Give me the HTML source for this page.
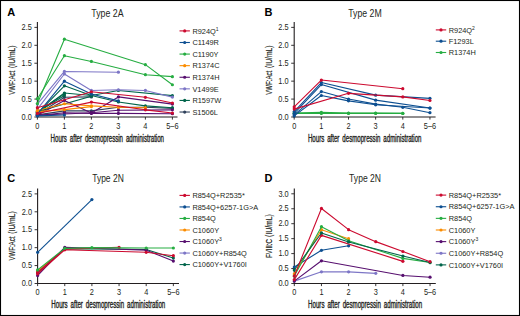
<!DOCTYPE html>
<html><head><meta charset="utf-8"><style>
html,body{margin:0;padding:0;background:#fff;overflow:hidden;width:520px;height:316px;}
svg{display:block;}
text{font-family:"Liberation Sans", sans-serif;}
.b{stroke:#231f20;stroke-width:0.36px;}
.c{stroke:#231f20;stroke-width:0.2px;}
</style></head><body>
<svg width="520" height="316" viewBox="0 0 520 316">
<rect x="0" y="0" width="520" height="316" fill="#fff"/>
<path d="M37.4 22.1V117.0H177.5" fill="none" stroke="#231f20" stroke-width="1.1"/>
<path d="M34.4 117.00H37.4" stroke="#231f20" stroke-width="0.9"/>
<text x="31.799999999999997" y="119.70" font-size="8.2" text-anchor="end" textLength="10.26" lengthAdjust="spacingAndGlyphs" fill="#231f20" >0.0</text>
<path d="M34.4 99.08H37.4" stroke="#231f20" stroke-width="0.9"/>
<text x="31.799999999999997" y="101.78" font-size="8.2" text-anchor="end" textLength="10.26" lengthAdjust="spacingAndGlyphs" fill="#231f20" >0.5</text>
<path d="M34.4 81.15H37.4" stroke="#231f20" stroke-width="0.9"/>
<text x="31.799999999999997" y="83.85" font-size="8.2" text-anchor="end" textLength="10.26" lengthAdjust="spacingAndGlyphs" fill="#231f20" >1.0</text>
<path d="M34.4 63.22H37.4" stroke="#231f20" stroke-width="0.9"/>
<text x="31.799999999999997" y="65.92" font-size="8.2" text-anchor="end" textLength="10.26" lengthAdjust="spacingAndGlyphs" fill="#231f20" >1.5</text>
<path d="M34.4 45.30H37.4" stroke="#231f20" stroke-width="0.9"/>
<text x="31.799999999999997" y="48.00" font-size="8.2" text-anchor="end" textLength="10.26" lengthAdjust="spacingAndGlyphs" fill="#231f20" >2.0</text>
<path d="M34.4 27.38H37.4" stroke="#231f20" stroke-width="0.9"/>
<text x="31.799999999999997" y="30.07" font-size="8.2" text-anchor="end" textLength="10.26" lengthAdjust="spacingAndGlyphs" fill="#231f20" >2.5</text>
<path d="M37.40 117.0V119.6" stroke="#231f20" stroke-width="0.9"/>
<text x="37.40" y="128.60" font-size="8.2" text-anchor="middle" textLength="4.10" lengthAdjust="spacingAndGlyphs" fill="#231f20" >0</text>
<path d="M64.40 117.0V119.6" stroke="#231f20" stroke-width="0.9"/>
<text x="64.40" y="128.60" font-size="8.2" text-anchor="middle" textLength="4.10" lengthAdjust="spacingAndGlyphs" fill="#231f20" >1</text>
<path d="M91.40 117.0V119.6" stroke="#231f20" stroke-width="0.9"/>
<text x="91.40" y="128.60" font-size="8.2" text-anchor="middle" textLength="4.10" lengthAdjust="spacingAndGlyphs" fill="#231f20" >2</text>
<path d="M118.40 117.0V119.6" stroke="#231f20" stroke-width="0.9"/>
<text x="118.40" y="128.60" font-size="8.2" text-anchor="middle" textLength="4.10" lengthAdjust="spacingAndGlyphs" fill="#231f20" >3</text>
<path d="M145.40 117.0V119.6" stroke="#231f20" stroke-width="0.9"/>
<text x="145.40" y="128.60" font-size="8.2" text-anchor="middle" textLength="4.10" lengthAdjust="spacingAndGlyphs" fill="#231f20" >4</text>
<path d="M172.40 117.0V119.6" stroke="#231f20" stroke-width="0.9"/>
<text x="172.40" y="128.60" font-size="8.2" text-anchor="middle" textLength="12.31" lengthAdjust="spacingAndGlyphs" fill="#231f20" >5–6</text>
<text x="50.6" y="141.6" font-size="10.0" textLength="113.4" lengthAdjust="spacingAndGlyphs" fill="#231f20" class="b" word-spacing="2.0">Hours after desmopressin administration</text>
<text transform="translate(15.0 94.8) rotate(-90)" x="0" y="0" font-size="9.5" class="c" textLength="24.0" lengthAdjust="spacingAndGlyphs" fill="#231f20">VWF:Act</text>
<text transform="translate(15.0 67.9) rotate(-90)" x="0" y="0" font-size="9.5" class="c" textLength="22.4" lengthAdjust="spacingAndGlyphs" fill="#231f20">(IU/mL)</text>
<text x="91.3" y="16.9" font-size="10.0" textLength="32.3" lengthAdjust="spacingAndGlyphs" fill="#231f20" >Type 2A</text>
<text x="7.2" y="15.9" font-size="11" font-weight="bold" fill="#000" >A</text>
<path d="M179.5 30.90H189.9" stroke="#cc0a2f" stroke-width="1.1"/>
<circle cx="184.7" cy="30.90" r="1.6" fill="#cc0a2f"/>
<text x="192.4" y="33.55" font-size="7.4" fill="#231f20" >R924Q<tspan dy="-3" font-size="5">1</tspan></text>
<path d="M179.5 42.49H189.9" stroke="#0d4f91" stroke-width="1.1"/>
<circle cx="184.7" cy="42.49" r="1.6" fill="#0d4f91"/>
<text x="192.4" y="45.14" font-size="7.4" fill="#231f20" >C1149R</text>
<path d="M179.5 54.08H189.9" stroke="#26ad42" stroke-width="1.1"/>
<circle cx="184.7" cy="54.08" r="1.6" fill="#26ad42"/>
<text x="192.4" y="56.73" font-size="7.4" fill="#231f20" >C1190Y</text>
<path d="M179.5 65.67H189.9" stroke="#fb8c00" stroke-width="1.1"/>
<circle cx="184.7" cy="65.67" r="1.6" fill="#fb8c00"/>
<text x="192.4" y="68.32" font-size="7.4" fill="#231f20" >R1374C</text>
<path d="M179.5 77.26H189.9" stroke="#570f6f" stroke-width="1.1"/>
<circle cx="184.7" cy="77.26" r="1.6" fill="#570f6f"/>
<text x="192.4" y="79.91" font-size="7.4" fill="#231f20" >R1374H</text>
<path d="M179.5 88.85H189.9" stroke="#7d76c6" stroke-width="1.1"/>
<circle cx="184.7" cy="88.85" r="1.6" fill="#7d76c6"/>
<text x="192.4" y="91.50" font-size="7.4" fill="#231f20" >V1499E</text>
<path d="M179.5 100.44H189.9" stroke="#00644a" stroke-width="1.1"/>
<circle cx="184.7" cy="100.44" r="1.6" fill="#00644a"/>
<text x="192.4" y="103.09" font-size="7.4" fill="#231f20" >R1597W</text>
<path d="M179.5 112.03H189.9" stroke="#2f415b" stroke-width="1.1"/>
<circle cx="184.7" cy="112.03" r="1.6" fill="#2f415b"/>
<text x="192.4" y="114.68" font-size="7.4" fill="#231f20" >S1506L</text>
<g><path d="M37.40 114.85 L64.40 110.91 L91.40 110.91 L118.40 107.32 L145.40 107.32 L172.40 108.40" fill="none" stroke="#2f415b" stroke-width="1.1" stroke-linejoin="round"/>
<circle cx="37.40" cy="114.85" r="1.6" fill="#2f415b"/>
<circle cx="64.40" cy="110.91" r="1.6" fill="#2f415b"/>
<circle cx="91.40" cy="110.91" r="1.6" fill="#2f415b"/>
<circle cx="118.40" cy="107.32" r="1.6" fill="#2f415b"/>
<circle cx="145.40" cy="107.32" r="1.6" fill="#2f415b"/>
<circle cx="172.40" cy="108.40" r="1.6" fill="#2f415b"/>
</g>
<g><path d="M37.40 114.49 L64.40 97.28 L91.40 96.92" fill="none" stroke="#2f415b" stroke-width="1.1" stroke-linejoin="round"/>
<circle cx="37.40" cy="114.49" r="1.6" fill="#2f415b"/>
<circle cx="64.40" cy="97.28" r="1.6" fill="#2f415b"/>
<circle cx="91.40" cy="96.92" r="1.6" fill="#2f415b"/>
</g>
<g><path d="M37.40 112.34 L64.40 95.49" fill="none" stroke="#00644a" stroke-width="1.1" stroke-linejoin="round"/>
<circle cx="37.40" cy="112.34" r="1.6" fill="#00644a"/>
<circle cx="64.40" cy="95.49" r="1.6" fill="#00644a"/>
</g>
<g><path d="M37.40 111.62 L91.40 96.21" fill="none" stroke="#00644a" stroke-width="1.1" stroke-linejoin="round"/>
<circle cx="37.40" cy="111.62" r="1.6" fill="#00644a"/>
<circle cx="91.40" cy="96.21" r="1.6" fill="#00644a"/>
</g>
<g><path d="M37.40 111.98 L64.40 93.88" fill="none" stroke="#00644a" stroke-width="1.1" stroke-linejoin="round"/>
<circle cx="37.40" cy="111.98" r="1.6" fill="#00644a"/>
<circle cx="64.40" cy="93.88" r="1.6" fill="#00644a"/>
</g>
<g><path d="M37.40 113.42 L64.40 85.81 L91.40 95.49 L118.40 101.94 L145.40 105.89 L172.40 107.68" fill="none" stroke="#00644a" stroke-width="1.1" stroke-linejoin="round"/>
<circle cx="37.40" cy="113.42" r="1.6" fill="#00644a"/>
<circle cx="64.40" cy="85.81" r="1.6" fill="#00644a"/>
<circle cx="91.40" cy="95.49" r="1.6" fill="#00644a"/>
<circle cx="118.40" cy="101.94" r="1.6" fill="#00644a"/>
<circle cx="145.40" cy="105.89" r="1.6" fill="#00644a"/>
<circle cx="172.40" cy="107.68" r="1.6" fill="#00644a"/>
</g>
<g><path d="M37.40 112.70 L64.40 92.98 L91.40 95.49 L118.40 90.47 L172.40 95.67" fill="none" stroke="#00644a" stroke-width="1.1" stroke-linejoin="round"/>
<circle cx="37.40" cy="112.70" r="1.6" fill="#00644a"/>
<circle cx="64.40" cy="92.98" r="1.6" fill="#00644a"/>
<circle cx="91.40" cy="95.49" r="1.6" fill="#00644a"/>
<circle cx="118.40" cy="90.47" r="1.6" fill="#00644a"/>
<circle cx="172.40" cy="95.67" r="1.6" fill="#00644a"/>
</g>
<g><path d="M37.40 109.11 L64.40 73.98 L91.40 90.47 L118.40 89.75 L145.40 90.47 L172.40 97.10" fill="none" stroke="#7d76c6" stroke-width="1.1" stroke-linejoin="round"/>
<circle cx="37.40" cy="109.11" r="1.6" fill="#7d76c6"/>
<circle cx="64.40" cy="73.98" r="1.6" fill="#7d76c6"/>
<circle cx="91.40" cy="90.47" r="1.6" fill="#7d76c6"/>
<circle cx="118.40" cy="89.75" r="1.6" fill="#7d76c6"/>
<circle cx="145.40" cy="90.47" r="1.6" fill="#7d76c6"/>
<circle cx="172.40" cy="97.10" r="1.6" fill="#7d76c6"/>
</g>
<g><path d="M37.40 104.09 L64.40 71.47 L118.40 72.19" fill="none" stroke="#7d76c6" stroke-width="1.1" stroke-linejoin="round"/>
<circle cx="37.40" cy="104.09" r="1.6" fill="#7d76c6"/>
<circle cx="64.40" cy="71.47" r="1.6" fill="#7d76c6"/>
<circle cx="118.40" cy="72.19" r="1.6" fill="#7d76c6"/>
</g>
<g><path d="M37.40 115.57 L64.40 112.70 L91.40 113.42 L118.40 113.42 L172.40 113.77" fill="none" stroke="#570f6f" stroke-width="1.1" stroke-linejoin="round"/>
<circle cx="37.40" cy="115.57" r="1.6" fill="#570f6f"/>
<circle cx="64.40" cy="112.70" r="1.6" fill="#570f6f"/>
<circle cx="91.40" cy="113.42" r="1.6" fill="#570f6f"/>
<circle cx="118.40" cy="113.42" r="1.6" fill="#570f6f"/>
<circle cx="172.40" cy="113.77" r="1.6" fill="#570f6f"/>
</g>
<g><path d="M37.40 115.21 L64.40 100.51 L91.40 113.06 L118.40 96.92 L172.40 104.09" fill="none" stroke="#570f6f" stroke-width="1.1" stroke-linejoin="round"/>
<circle cx="37.40" cy="115.21" r="1.6" fill="#570f6f"/>
<circle cx="64.40" cy="100.51" r="1.6" fill="#570f6f"/>
<circle cx="91.40" cy="113.06" r="1.6" fill="#570f6f"/>
<circle cx="118.40" cy="96.92" r="1.6" fill="#570f6f"/>
<circle cx="172.40" cy="104.09" r="1.6" fill="#570f6f"/>
</g>
<g><path d="M37.40 115.21 L91.40 112.70 L118.40 110.19 L172.40 109.83" fill="none" stroke="#570f6f" stroke-width="1.1" stroke-linejoin="round"/>
<circle cx="37.40" cy="115.21" r="1.6" fill="#570f6f"/>
<circle cx="91.40" cy="112.70" r="1.6" fill="#570f6f"/>
<circle cx="118.40" cy="110.19" r="1.6" fill="#570f6f"/>
<circle cx="172.40" cy="109.83" r="1.6" fill="#570f6f"/>
</g>
<g><path d="M37.40 111.62 L64.40 109.65 L91.40 106.60" fill="none" stroke="#fb8c00" stroke-width="1.1" stroke-linejoin="round"/>
<circle cx="37.40" cy="111.62" r="1.6" fill="#fb8c00"/>
<circle cx="64.40" cy="109.65" r="1.6" fill="#fb8c00"/>
<circle cx="91.40" cy="106.60" r="1.6" fill="#fb8c00"/>
</g>
<g><path d="M37.40 110.55 L64.40 103.74 L91.40 105.89 L118.40 107.32 L145.40 107.68" fill="none" stroke="#fb8c00" stroke-width="1.1" stroke-linejoin="round"/>
<circle cx="37.40" cy="110.55" r="1.6" fill="#fb8c00"/>
<circle cx="64.40" cy="103.74" r="1.6" fill="#fb8c00"/>
<circle cx="91.40" cy="105.89" r="1.6" fill="#fb8c00"/>
<circle cx="118.40" cy="107.32" r="1.6" fill="#fb8c00"/>
<circle cx="145.40" cy="107.68" r="1.6" fill="#fb8c00"/>
</g>
<g><path d="M37.40 103.56 L64.40 39.21 L145.40 64.66 L172.40 84.73" fill="none" stroke="#26ad42" stroke-width="1.1" stroke-linejoin="round"/>
<circle cx="37.40" cy="103.56" r="1.6" fill="#26ad42"/>
<circle cx="64.40" cy="39.21" r="1.6" fill="#26ad42"/>
<circle cx="145.40" cy="64.66" r="1.6" fill="#26ad42"/>
<circle cx="172.40" cy="84.73" r="1.6" fill="#26ad42"/>
</g>
<g><path d="M37.40 98.72 L64.40 55.70 L91.40 61.43 L145.40 74.70 L172.40 76.67" fill="none" stroke="#26ad42" stroke-width="1.1" stroke-linejoin="round"/>
<circle cx="37.40" cy="98.72" r="1.6" fill="#26ad42"/>
<circle cx="64.40" cy="55.70" r="1.6" fill="#26ad42"/>
<circle cx="91.40" cy="61.43" r="1.6" fill="#26ad42"/>
<circle cx="145.40" cy="74.70" r="1.6" fill="#26ad42"/>
<circle cx="172.40" cy="76.67" r="1.6" fill="#26ad42"/>
</g>
<g><path d="M37.40 115.92 L64.40 115.03" fill="none" stroke="#0d4f91" stroke-width="1.1" stroke-linejoin="round"/>
<circle cx="37.40" cy="115.92" r="1.6" fill="#0d4f91"/>
<circle cx="64.40" cy="115.03" r="1.6" fill="#0d4f91"/>
</g>
<g><path d="M37.40 114.13 L64.40 81.15 L91.40 94.06 L118.40 100.87" fill="none" stroke="#0d4f91" stroke-width="1.1" stroke-linejoin="round"/>
<circle cx="37.40" cy="114.13" r="1.6" fill="#0d4f91"/>
<circle cx="64.40" cy="81.15" r="1.6" fill="#0d4f91"/>
<circle cx="91.40" cy="94.06" r="1.6" fill="#0d4f91"/>
<circle cx="118.40" cy="100.87" r="1.6" fill="#0d4f91"/>
</g>
<g><path d="M37.40 113.42 L91.40 102.12 L145.40 109.83 L172.40 113.06" fill="none" stroke="#cc0a2f" stroke-width="1.1" stroke-linejoin="round"/>
<circle cx="37.40" cy="113.42" r="1.6" fill="#cc0a2f"/>
<circle cx="91.40" cy="102.12" r="1.6" fill="#cc0a2f"/>
<circle cx="145.40" cy="109.83" r="1.6" fill="#cc0a2f"/>
<circle cx="172.40" cy="113.06" r="1.6" fill="#cc0a2f"/>
</g>
<g><path d="M37.40 107.68 L91.40 91.73 L145.40 97.28 L172.40 103.02" fill="none" stroke="#cc0a2f" stroke-width="1.1" stroke-linejoin="round"/>
<circle cx="37.40" cy="107.68" r="1.6" fill="#cc0a2f"/>
<circle cx="91.40" cy="91.73" r="1.6" fill="#cc0a2f"/>
<circle cx="145.40" cy="97.28" r="1.6" fill="#cc0a2f"/>
<circle cx="172.40" cy="103.02" r="1.6" fill="#cc0a2f"/>
</g>
<path d="M294.2 22.0V117.0H435.6" fill="none" stroke="#231f20" stroke-width="1.1"/>
<path d="M291.2 117.00H294.2" stroke="#231f20" stroke-width="0.9"/>
<text x="288.59999999999997" y="119.70" font-size="8.2" text-anchor="end" textLength="10.26" lengthAdjust="spacingAndGlyphs" fill="#231f20" >0.0</text>
<path d="M291.2 99.08H294.2" stroke="#231f20" stroke-width="0.9"/>
<text x="288.59999999999997" y="101.78" font-size="8.2" text-anchor="end" textLength="10.26" lengthAdjust="spacingAndGlyphs" fill="#231f20" >0.5</text>
<path d="M291.2 81.15H294.2" stroke="#231f20" stroke-width="0.9"/>
<text x="288.59999999999997" y="83.85" font-size="8.2" text-anchor="end" textLength="10.26" lengthAdjust="spacingAndGlyphs" fill="#231f20" >1.0</text>
<path d="M291.2 63.22H294.2" stroke="#231f20" stroke-width="0.9"/>
<text x="288.59999999999997" y="65.92" font-size="8.2" text-anchor="end" textLength="10.26" lengthAdjust="spacingAndGlyphs" fill="#231f20" >1.5</text>
<path d="M291.2 45.30H294.2" stroke="#231f20" stroke-width="0.9"/>
<text x="288.59999999999997" y="48.00" font-size="8.2" text-anchor="end" textLength="10.26" lengthAdjust="spacingAndGlyphs" fill="#231f20" >2.0</text>
<path d="M291.2 27.38H294.2" stroke="#231f20" stroke-width="0.9"/>
<text x="288.59999999999997" y="30.07" font-size="8.2" text-anchor="end" textLength="10.26" lengthAdjust="spacingAndGlyphs" fill="#231f20" >2.5</text>
<path d="M294.20 117.0V119.6" stroke="#231f20" stroke-width="0.9"/>
<text x="294.20" y="128.60" font-size="8.2" text-anchor="middle" textLength="4.10" lengthAdjust="spacingAndGlyphs" fill="#231f20" >0</text>
<path d="M321.35 117.0V119.6" stroke="#231f20" stroke-width="0.9"/>
<text x="321.35" y="128.60" font-size="8.2" text-anchor="middle" textLength="4.10" lengthAdjust="spacingAndGlyphs" fill="#231f20" >1</text>
<path d="M348.50 117.0V119.6" stroke="#231f20" stroke-width="0.9"/>
<text x="348.50" y="128.60" font-size="8.2" text-anchor="middle" textLength="4.10" lengthAdjust="spacingAndGlyphs" fill="#231f20" >2</text>
<path d="M375.65 117.0V119.6" stroke="#231f20" stroke-width="0.9"/>
<text x="375.65" y="128.60" font-size="8.2" text-anchor="middle" textLength="4.10" lengthAdjust="spacingAndGlyphs" fill="#231f20" >3</text>
<path d="M402.80 117.0V119.6" stroke="#231f20" stroke-width="0.9"/>
<text x="402.80" y="128.60" font-size="8.2" text-anchor="middle" textLength="4.10" lengthAdjust="spacingAndGlyphs" fill="#231f20" >4</text>
<path d="M429.95 117.0V119.6" stroke="#231f20" stroke-width="0.9"/>
<text x="429.95" y="128.60" font-size="8.2" text-anchor="middle" textLength="12.31" lengthAdjust="spacingAndGlyphs" fill="#231f20" >5–6</text>
<text x="307.9" y="141.7" font-size="10.0" textLength="113.6" lengthAdjust="spacingAndGlyphs" fill="#231f20" class="b" word-spacing="2.0">Hours after desmopressin administration</text>
<text transform="translate(272.0 94.8) rotate(-90)" x="0" y="0" font-size="9.5" class="c" textLength="24.0" lengthAdjust="spacingAndGlyphs" fill="#231f20">VWF:Act</text>
<text transform="translate(272.0 67.9) rotate(-90)" x="0" y="0" font-size="9.5" class="c" textLength="22.4" lengthAdjust="spacingAndGlyphs" fill="#231f20">(IU/mL)</text>
<text x="348.2" y="16.9" font-size="10.0" textLength="33.5" lengthAdjust="spacingAndGlyphs" fill="#231f20" >Type 2M</text>
<text x="264.5" y="15.9" font-size="11" font-weight="bold" fill="#000" >B</text>
<path d="M435.8 29.90H446.2" stroke="#cc0a2f" stroke-width="1.1"/>
<circle cx="441.0" cy="29.90" r="1.6" fill="#cc0a2f"/>
<text x="448.7" y="32.55" font-size="7.4" fill="#231f20" >R924Q<tspan dy="-3" font-size="5">2</tspan></text>
<path d="M435.8 41.20H446.2" stroke="#0d4f91" stroke-width="1.1"/>
<circle cx="441.0" cy="41.20" r="1.6" fill="#0d4f91"/>
<text x="448.7" y="43.85" font-size="7.4" fill="#231f20" >F1293L</text>
<path d="M435.8 52.50H446.2" stroke="#26ad42" stroke-width="1.1"/>
<circle cx="441.0" cy="52.50" r="1.6" fill="#26ad42"/>
<text x="448.7" y="55.15" font-size="7.4" fill="#231f20" >R1374H</text>
<g><path d="M294.20 113.42 L321.35 113.42 L348.50 113.42 L375.65 113.42 L402.80 113.42" fill="none" stroke="#26ad42" stroke-width="1.1" stroke-linejoin="round"/>
<circle cx="294.20" cy="113.42" r="1.6" fill="#26ad42"/>
<circle cx="321.35" cy="113.42" r="1.6" fill="#26ad42"/>
<circle cx="348.50" cy="113.42" r="1.6" fill="#26ad42"/>
<circle cx="375.65" cy="113.42" r="1.6" fill="#26ad42"/>
<circle cx="402.80" cy="113.42" r="1.6" fill="#26ad42"/>
</g>
<g><path d="M294.20 113.06 L321.35 112.34 L348.50 113.06 L375.65 113.06 L402.80 113.42" fill="none" stroke="#26ad42" stroke-width="1.1" stroke-linejoin="round"/>
<circle cx="294.20" cy="113.06" r="1.6" fill="#26ad42"/>
<circle cx="321.35" cy="112.34" r="1.6" fill="#26ad42"/>
<circle cx="348.50" cy="113.06" r="1.6" fill="#26ad42"/>
<circle cx="375.65" cy="113.06" r="1.6" fill="#26ad42"/>
<circle cx="402.80" cy="113.42" r="1.6" fill="#26ad42"/>
</g>
<g><path d="M294.20 115.92 L321.35 95.49 L348.50 100.87 L375.65 104.81 L429.95 108.04" fill="none" stroke="#0d4f91" stroke-width="1.1" stroke-linejoin="round"/>
<circle cx="294.20" cy="115.92" r="1.6" fill="#0d4f91"/>
<circle cx="321.35" cy="95.49" r="1.6" fill="#0d4f91"/>
<circle cx="348.50" cy="100.87" r="1.6" fill="#0d4f91"/>
<circle cx="375.65" cy="104.81" r="1.6" fill="#0d4f91"/>
<circle cx="429.95" cy="108.04" r="1.6" fill="#0d4f91"/>
</g>
<g><path d="M294.20 114.85 L321.35 91.55 L348.50 99.08 L375.65 104.09 L402.80 107.32 L429.95 112.70" fill="none" stroke="#0d4f91" stroke-width="1.1" stroke-linejoin="round"/>
<circle cx="294.20" cy="114.85" r="1.6" fill="#0d4f91"/>
<circle cx="321.35" cy="91.55" r="1.6" fill="#0d4f91"/>
<circle cx="348.50" cy="99.08" r="1.6" fill="#0d4f91"/>
<circle cx="375.65" cy="104.09" r="1.6" fill="#0d4f91"/>
<circle cx="402.80" cy="107.32" r="1.6" fill="#0d4f91"/>
<circle cx="429.95" cy="112.70" r="1.6" fill="#0d4f91"/>
</g>
<g><path d="M294.20 113.42 L321.35 84.56 L375.65 100.15 L429.95 108.04" fill="none" stroke="#0d4f91" stroke-width="1.1" stroke-linejoin="round"/>
<circle cx="294.20" cy="113.42" r="1.6" fill="#0d4f91"/>
<circle cx="321.35" cy="84.56" r="1.6" fill="#0d4f91"/>
<circle cx="375.65" cy="100.15" r="1.6" fill="#0d4f91"/>
<circle cx="429.95" cy="108.04" r="1.6" fill="#0d4f91"/>
</g>
<g><path d="M294.20 111.62 L321.35 82.58 L375.65 95.13 L429.95 98.36" fill="none" stroke="#0d4f91" stroke-width="1.1" stroke-linejoin="round"/>
<circle cx="294.20" cy="111.62" r="1.6" fill="#0d4f91"/>
<circle cx="321.35" cy="82.58" r="1.6" fill="#0d4f91"/>
<circle cx="375.65" cy="95.13" r="1.6" fill="#0d4f91"/>
<circle cx="429.95" cy="98.36" r="1.6" fill="#0d4f91"/>
</g>
<g><path d="M294.20 109.11 L348.50 93.34 L402.80 96.92 L429.95 100.51" fill="none" stroke="#cc0a2f" stroke-width="1.1" stroke-linejoin="round"/>
<circle cx="294.20" cy="109.11" r="1.6" fill="#cc0a2f"/>
<circle cx="348.50" cy="93.34" r="1.6" fill="#cc0a2f"/>
<circle cx="402.80" cy="96.92" r="1.6" fill="#cc0a2f"/>
<circle cx="429.95" cy="100.51" r="1.6" fill="#cc0a2f"/>
</g>
<g><path d="M294.20 106.96 L321.35 80.07 L402.80 88.68" fill="none" stroke="#cc0a2f" stroke-width="1.1" stroke-linejoin="round"/>
<circle cx="294.20" cy="106.96" r="1.6" fill="#cc0a2f"/>
<circle cx="321.35" cy="80.07" r="1.6" fill="#cc0a2f"/>
<circle cx="402.80" cy="88.68" r="1.6" fill="#cc0a2f"/>
</g>
<path d="M37.6 188.6V283.5H179.0" fill="none" stroke="#231f20" stroke-width="1.1"/>
<path d="M34.6 283.50H37.6" stroke="#231f20" stroke-width="0.9"/>
<text x="32.0" y="286.20" font-size="8.2" text-anchor="end" textLength="10.26" lengthAdjust="spacingAndGlyphs" fill="#231f20" >0.0</text>
<path d="M34.6 265.57H37.6" stroke="#231f20" stroke-width="0.9"/>
<text x="32.0" y="268.27" font-size="8.2" text-anchor="end" textLength="10.26" lengthAdjust="spacingAndGlyphs" fill="#231f20" >0.5</text>
<path d="M34.6 247.65H37.6" stroke="#231f20" stroke-width="0.9"/>
<text x="32.0" y="250.35" font-size="8.2" text-anchor="end" textLength="10.26" lengthAdjust="spacingAndGlyphs" fill="#231f20" >1.0</text>
<path d="M34.6 229.72H37.6" stroke="#231f20" stroke-width="0.9"/>
<text x="32.0" y="232.42" font-size="8.2" text-anchor="end" textLength="10.26" lengthAdjust="spacingAndGlyphs" fill="#231f20" >1.5</text>
<path d="M34.6 211.80H37.6" stroke="#231f20" stroke-width="0.9"/>
<text x="32.0" y="214.50" font-size="8.2" text-anchor="end" textLength="10.26" lengthAdjust="spacingAndGlyphs" fill="#231f20" >2.0</text>
<path d="M34.6 193.88H37.6" stroke="#231f20" stroke-width="0.9"/>
<text x="32.0" y="196.57" font-size="8.2" text-anchor="end" textLength="10.26" lengthAdjust="spacingAndGlyphs" fill="#231f20" >2.5</text>
<path d="M37.60 283.5V286.1" stroke="#231f20" stroke-width="0.9"/>
<text x="37.60" y="295.10" font-size="8.2" text-anchor="middle" textLength="4.10" lengthAdjust="spacingAndGlyphs" fill="#231f20" >0</text>
<path d="M64.75 283.5V286.1" stroke="#231f20" stroke-width="0.9"/>
<text x="64.75" y="295.10" font-size="8.2" text-anchor="middle" textLength="4.10" lengthAdjust="spacingAndGlyphs" fill="#231f20" >1</text>
<path d="M91.90 283.5V286.1" stroke="#231f20" stroke-width="0.9"/>
<text x="91.90" y="295.10" font-size="8.2" text-anchor="middle" textLength="4.10" lengthAdjust="spacingAndGlyphs" fill="#231f20" >2</text>
<path d="M119.05 283.5V286.1" stroke="#231f20" stroke-width="0.9"/>
<text x="119.05" y="295.10" font-size="8.2" text-anchor="middle" textLength="4.10" lengthAdjust="spacingAndGlyphs" fill="#231f20" >3</text>
<path d="M146.20 283.5V286.1" stroke="#231f20" stroke-width="0.9"/>
<text x="146.20" y="295.10" font-size="8.2" text-anchor="middle" textLength="4.10" lengthAdjust="spacingAndGlyphs" fill="#231f20" >4</text>
<path d="M173.35 283.5V286.1" stroke="#231f20" stroke-width="0.9"/>
<text x="173.35" y="295.10" font-size="8.2" text-anchor="middle" textLength="12.31" lengthAdjust="spacingAndGlyphs" fill="#231f20" >5–6</text>
<text x="51.3" y="307.8" font-size="10.0" textLength="114.0" lengthAdjust="spacingAndGlyphs" fill="#231f20" class="b" word-spacing="2.0">Hours after desmopressin administration</text>
<text transform="translate(15.0 260.6) rotate(-90)" x="0" y="0" font-size="9.5" class="c" textLength="24.0" lengthAdjust="spacingAndGlyphs" fill="#231f20">VWF:Act</text>
<text transform="translate(15.0 233.7) rotate(-90)" x="0" y="0" font-size="9.5" class="c" textLength="22.4" lengthAdjust="spacingAndGlyphs" fill="#231f20">(IU/mL)</text>
<text x="92.2" y="182.4" font-size="10.0" textLength="31.6" lengthAdjust="spacingAndGlyphs" fill="#231f20" >Type 2N</text>
<text x="7.2" y="182.2" font-size="11" font-weight="bold" fill="#000" >C</text>
<path d="M179.5 195.40H189.9" stroke="#cc0a2f" stroke-width="1.1"/>
<circle cx="184.7" cy="195.40" r="1.6" fill="#cc0a2f"/>
<text x="192.4" y="198.05" font-size="7.4" fill="#231f20" >R854Q+R2535*</text>
<path d="M179.5 206.93H189.9" stroke="#0d4f91" stroke-width="1.1"/>
<circle cx="184.7" cy="206.93" r="1.6" fill="#0d4f91"/>
<text x="192.4" y="209.58" font-size="7.4" fill="#231f20" >R854Q+6257-1G&gt;A</text>
<path d="M179.5 218.46H189.9" stroke="#26ad42" stroke-width="1.1"/>
<circle cx="184.7" cy="218.46" r="1.6" fill="#26ad42"/>
<text x="192.4" y="221.11" font-size="7.4" fill="#231f20" >R854Q</text>
<path d="M179.5 229.99H189.9" stroke="#fb8c00" stroke-width="1.1"/>
<circle cx="184.7" cy="229.99" r="1.6" fill="#fb8c00"/>
<text x="192.4" y="232.64" font-size="7.4" fill="#231f20" >C1060Y</text>
<path d="M179.5 241.52H189.9" stroke="#570f6f" stroke-width="1.1"/>
<circle cx="184.7" cy="241.52" r="1.6" fill="#570f6f"/>
<text x="192.4" y="244.17" font-size="7.4" fill="#231f20" >C1060Y<tspan dy="-3" font-size="5">3</tspan></text>
<path d="M179.5 253.05H189.9" stroke="#7d76c6" stroke-width="1.1"/>
<circle cx="184.7" cy="253.05" r="1.6" fill="#7d76c6"/>
<text x="192.4" y="255.70" font-size="7.4" fill="#231f20" >C1060Y+R854Q</text>
<path d="M179.5 264.58H189.9" stroke="#00644a" stroke-width="1.1"/>
<circle cx="184.7" cy="264.58" r="1.6" fill="#00644a"/>
<text x="192.4" y="267.23" font-size="7.4" fill="#231f20" >C1060Y+V1760I</text>
<g><path d="M37.60 252.31 L91.90 199.61" fill="none" stroke="#0d4f91" stroke-width="1.1" stroke-linejoin="round"/>
<circle cx="37.60" cy="252.31" r="1.6" fill="#0d4f91"/>
<circle cx="91.90" cy="199.61" r="1.6" fill="#0d4f91"/>
</g>
<g><path d="M37.60 270.95 L64.75 248.73" fill="none" stroke="#fb8c00" stroke-width="1.1" stroke-linejoin="round"/>
<circle cx="37.60" cy="270.95" r="1.6" fill="#fb8c00"/>
<circle cx="64.75" cy="248.73" r="1.6" fill="#fb8c00"/>
</g>
<g><path d="M37.60 272.75 L64.75 248.73 L146.20 249.44 L173.35 258.05" fill="none" stroke="#00644a" stroke-width="1.1" stroke-linejoin="round"/>
<circle cx="37.60" cy="272.75" r="1.6" fill="#00644a"/>
<circle cx="64.75" cy="248.73" r="1.6" fill="#00644a"/>
<circle cx="146.20" cy="249.44" r="1.6" fill="#00644a"/>
<circle cx="173.35" cy="258.05" r="1.6" fill="#00644a"/>
</g>
<g><path d="M37.60 275.61 L64.75 247.29 L146.20 250.16 L173.35 261.09" fill="none" stroke="#570f6f" stroke-width="1.1" stroke-linejoin="round"/>
<circle cx="37.60" cy="275.61" r="1.6" fill="#570f6f"/>
<circle cx="64.75" cy="247.29" r="1.6" fill="#570f6f"/>
<circle cx="146.20" cy="250.16" r="1.6" fill="#570f6f"/>
<circle cx="173.35" cy="261.09" r="1.6" fill="#570f6f"/>
</g>
<g><path d="M37.60 273.82 L64.75 249.80 L146.20 252.31 L173.35 255.72" fill="none" stroke="#cc0a2f" stroke-width="1.1" stroke-linejoin="round"/>
<circle cx="37.60" cy="273.82" r="1.6" fill="#cc0a2f"/>
<circle cx="64.75" cy="249.80" r="1.6" fill="#cc0a2f"/>
<circle cx="146.20" cy="252.31" r="1.6" fill="#cc0a2f"/>
<circle cx="173.35" cy="255.72" r="1.6" fill="#cc0a2f"/>
</g>
<g><path d="M37.60 272.39 L64.75 249.08 L119.05 247.29" fill="none" stroke="#cc0a2f" stroke-width="1.1" stroke-linejoin="round"/>
<circle cx="37.60" cy="272.39" r="1.6" fill="#cc0a2f"/>
<circle cx="64.75" cy="249.08" r="1.6" fill="#cc0a2f"/>
<circle cx="119.05" cy="247.29" r="1.6" fill="#cc0a2f"/>
</g>
<g><path d="M37.60 269.88 L64.75 248.37 L91.90 247.65 L146.20 248.01 L173.35 248.01" fill="none" stroke="#26ad42" stroke-width="1.1" stroke-linejoin="round"/>
<circle cx="37.60" cy="269.88" r="1.6" fill="#26ad42"/>
<circle cx="64.75" cy="248.37" r="1.6" fill="#26ad42"/>
<circle cx="91.90" cy="247.65" r="1.6" fill="#26ad42"/>
<circle cx="146.20" cy="248.01" r="1.6" fill="#26ad42"/>
<circle cx="173.35" cy="248.01" r="1.6" fill="#26ad42"/>
</g>
<path d="M294.3 188.4V283.5H435.8" fill="none" stroke="#231f20" stroke-width="1.1"/>
<path d="M291.3 283.50H294.3" stroke="#231f20" stroke-width="0.9"/>
<text x="288.7" y="286.20" font-size="8.2" text-anchor="end" textLength="10.26" lengthAdjust="spacingAndGlyphs" fill="#231f20" >0.0</text>
<path d="M291.3 268.55H294.3" stroke="#231f20" stroke-width="0.9"/>
<text x="288.7" y="271.25" font-size="8.2" text-anchor="end" textLength="10.26" lengthAdjust="spacingAndGlyphs" fill="#231f20" >0.5</text>
<path d="M291.3 253.60H294.3" stroke="#231f20" stroke-width="0.9"/>
<text x="288.7" y="256.30" font-size="8.2" text-anchor="end" textLength="10.26" lengthAdjust="spacingAndGlyphs" fill="#231f20" >1.0</text>
<path d="M291.3 238.65H294.3" stroke="#231f20" stroke-width="0.9"/>
<text x="288.7" y="241.35" font-size="8.2" text-anchor="end" textLength="10.26" lengthAdjust="spacingAndGlyphs" fill="#231f20" >1.5</text>
<path d="M291.3 223.70H294.3" stroke="#231f20" stroke-width="0.9"/>
<text x="288.7" y="226.40" font-size="8.2" text-anchor="end" textLength="10.26" lengthAdjust="spacingAndGlyphs" fill="#231f20" >2.0</text>
<path d="M291.3 208.75H294.3" stroke="#231f20" stroke-width="0.9"/>
<text x="288.7" y="211.45" font-size="8.2" text-anchor="end" textLength="10.26" lengthAdjust="spacingAndGlyphs" fill="#231f20" >2.5</text>
<path d="M291.3 193.80H294.3" stroke="#231f20" stroke-width="0.9"/>
<text x="288.7" y="196.50" font-size="8.2" text-anchor="end" textLength="10.26" lengthAdjust="spacingAndGlyphs" fill="#231f20" >3.0</text>
<path d="M294.30 283.5V286.1" stroke="#231f20" stroke-width="0.9"/>
<text x="294.30" y="295.10" font-size="8.2" text-anchor="middle" textLength="4.10" lengthAdjust="spacingAndGlyphs" fill="#231f20" >0</text>
<path d="M321.45 283.5V286.1" stroke="#231f20" stroke-width="0.9"/>
<text x="321.45" y="295.10" font-size="8.2" text-anchor="middle" textLength="4.10" lengthAdjust="spacingAndGlyphs" fill="#231f20" >1</text>
<path d="M348.60 283.5V286.1" stroke="#231f20" stroke-width="0.9"/>
<text x="348.60" y="295.10" font-size="8.2" text-anchor="middle" textLength="4.10" lengthAdjust="spacingAndGlyphs" fill="#231f20" >2</text>
<path d="M375.75 283.5V286.1" stroke="#231f20" stroke-width="0.9"/>
<text x="375.75" y="295.10" font-size="8.2" text-anchor="middle" textLength="4.10" lengthAdjust="spacingAndGlyphs" fill="#231f20" >3</text>
<path d="M402.90 283.5V286.1" stroke="#231f20" stroke-width="0.9"/>
<text x="402.90" y="295.10" font-size="8.2" text-anchor="middle" textLength="4.10" lengthAdjust="spacingAndGlyphs" fill="#231f20" >4</text>
<path d="M430.05 283.5V286.1" stroke="#231f20" stroke-width="0.9"/>
<text x="430.05" y="295.10" font-size="8.2" text-anchor="middle" textLength="12.31" lengthAdjust="spacingAndGlyphs" fill="#231f20" >5–6</text>
<text x="308.1" y="307.8" font-size="10.0" textLength="114.0" lengthAdjust="spacingAndGlyphs" fill="#231f20" class="b" word-spacing="2.0">Hours after desmopressin administration</text>
<text transform="translate(272.0 258.1) rotate(-90)" x="0" y="0" font-size="9.5" class="c" textLength="19.0" lengthAdjust="spacingAndGlyphs" fill="#231f20">FVIII:C</text>
<text transform="translate(272.0 236.9) rotate(-90)" x="0" y="0" font-size="9.5" class="c" textLength="22.8" lengthAdjust="spacingAndGlyphs" fill="#231f20">(IU/mL)</text>
<text x="349.1" y="182.4" font-size="10.0" textLength="31.9" lengthAdjust="spacingAndGlyphs" fill="#231f20" >Type 2N</text>
<text x="264.5" y="182.2" font-size="11" font-weight="bold" fill="#000" >D</text>
<path d="M435.8 195.10H446.2" stroke="#cc0a2f" stroke-width="1.1"/>
<circle cx="441.0" cy="195.10" r="1.6" fill="#cc0a2f"/>
<text x="448.7" y="197.75" font-size="7.4" fill="#231f20" >R854Q+R2535*</text>
<path d="M435.8 206.73H446.2" stroke="#0d4f91" stroke-width="1.1"/>
<circle cx="441.0" cy="206.73" r="1.6" fill="#0d4f91"/>
<text x="448.7" y="209.38" font-size="7.4" fill="#231f20" >R854Q+6257-1G&gt;A</text>
<path d="M435.8 218.36H446.2" stroke="#26ad42" stroke-width="1.1"/>
<circle cx="441.0" cy="218.36" r="1.6" fill="#26ad42"/>
<text x="448.7" y="221.01" font-size="7.4" fill="#231f20" >R854Q</text>
<path d="M435.8 229.99H446.2" stroke="#fb8c00" stroke-width="1.1"/>
<circle cx="441.0" cy="229.99" r="1.6" fill="#fb8c00"/>
<text x="448.7" y="232.64" font-size="7.4" fill="#231f20" >C1060Y</text>
<path d="M435.8 241.62H446.2" stroke="#570f6f" stroke-width="1.1"/>
<circle cx="441.0" cy="241.62" r="1.6" fill="#570f6f"/>
<text x="448.7" y="244.27" font-size="7.4" fill="#231f20" >C1060Y<tspan dy="-3" font-size="5">3</tspan></text>
<path d="M435.8 253.25H446.2" stroke="#7d76c6" stroke-width="1.1"/>
<circle cx="441.0" cy="253.25" r="1.6" fill="#7d76c6"/>
<text x="448.7" y="255.90" font-size="7.4" fill="#231f20" >C1060Y+R854Q</text>
<path d="M435.8 264.88H446.2" stroke="#00644a" stroke-width="1.1"/>
<circle cx="441.0" cy="264.88" r="1.6" fill="#00644a"/>
<text x="448.7" y="267.53" font-size="7.4" fill="#231f20" >C1060Y+V1760I</text>
<g><path d="M294.30 281.11 L321.45 271.84 L348.60 271.84 L375.75 273.33" fill="none" stroke="#7d76c6" stroke-width="1.1" stroke-linejoin="round"/>
<circle cx="294.30" cy="281.11" r="1.6" fill="#7d76c6"/>
<circle cx="321.45" cy="271.84" r="1.6" fill="#7d76c6"/>
<circle cx="348.60" cy="271.84" r="1.6" fill="#7d76c6"/>
<circle cx="375.75" cy="273.33" r="1.6" fill="#7d76c6"/>
</g>
<g><path d="M294.30 281.11 L321.45 260.78 L402.90 275.43 L430.05 277.22" fill="none" stroke="#570f6f" stroke-width="1.1" stroke-linejoin="round"/>
<circle cx="294.30" cy="281.11" r="1.6" fill="#570f6f"/>
<circle cx="321.45" cy="260.78" r="1.6" fill="#570f6f"/>
<circle cx="402.90" cy="275.43" r="1.6" fill="#570f6f"/>
<circle cx="430.05" cy="277.22" r="1.6" fill="#570f6f"/>
</g>
<g><path d="M294.30 267.06 L321.45 250.31 L348.60 245.83" fill="none" stroke="#0d4f91" stroke-width="1.1" stroke-linejoin="round"/>
<circle cx="294.30" cy="267.06" r="1.6" fill="#0d4f91"/>
<circle cx="321.45" cy="250.31" r="1.6" fill="#0d4f91"/>
<circle cx="348.60" cy="245.83" r="1.6" fill="#0d4f91"/>
</g>
<g><path d="M294.30 279.61 L321.45 235.36 L402.90 261.37" fill="none" stroke="#cc0a2f" stroke-width="1.1" stroke-linejoin="round"/>
<circle cx="294.30" cy="279.61" r="1.6" fill="#cc0a2f"/>
<circle cx="321.45" cy="235.36" r="1.6" fill="#cc0a2f"/>
<circle cx="402.90" cy="261.37" r="1.6" fill="#cc0a2f"/>
</g>
<g><path d="M294.30 273.93 L321.45 229.68 L348.60 238.65" fill="none" stroke="#fb8c00" stroke-width="1.1" stroke-linejoin="round"/>
<circle cx="294.30" cy="273.93" r="1.6" fill="#fb8c00"/>
<circle cx="321.45" cy="229.68" r="1.6" fill="#fb8c00"/>
<circle cx="348.60" cy="238.65" r="1.6" fill="#fb8c00"/>
</g>
<g><path d="M294.30 276.02 L321.45 226.69 L348.60 240.74 L402.90 258.38 L430.05 262.57" fill="none" stroke="#26ad42" stroke-width="1.1" stroke-linejoin="round"/>
<circle cx="294.30" cy="276.02" r="1.6" fill="#26ad42"/>
<circle cx="321.45" cy="226.69" r="1.6" fill="#26ad42"/>
<circle cx="348.60" cy="240.74" r="1.6" fill="#26ad42"/>
<circle cx="402.90" cy="258.38" r="1.6" fill="#26ad42"/>
<circle cx="430.05" cy="262.57" r="1.6" fill="#26ad42"/>
</g>
<g><path d="M294.30 270.05 L321.45 232.97 L348.60 241.94 L402.90 255.99 L430.05 262.57" fill="none" stroke="#00644a" stroke-width="1.1" stroke-linejoin="round"/>
<circle cx="294.30" cy="270.05" r="1.6" fill="#00644a"/>
<circle cx="321.45" cy="232.97" r="1.6" fill="#00644a"/>
<circle cx="348.60" cy="241.94" r="1.6" fill="#00644a"/>
<circle cx="402.90" cy="255.99" r="1.6" fill="#00644a"/>
<circle cx="430.05" cy="262.57" r="1.6" fill="#00644a"/>
</g>
<g><path d="M294.30 276.02 L321.45 208.45 L348.60 229.68 L375.75 241.64 L402.90 251.51 L430.05 261.67" fill="none" stroke="#cc0a2f" stroke-width="1.1" stroke-linejoin="round"/>
<circle cx="294.30" cy="276.02" r="1.6" fill="#cc0a2f"/>
<circle cx="321.45" cy="208.45" r="1.6" fill="#cc0a2f"/>
<circle cx="348.60" cy="229.68" r="1.6" fill="#cc0a2f"/>
<circle cx="375.75" cy="241.64" r="1.6" fill="#cc0a2f"/>
<circle cx="402.90" cy="251.51" r="1.6" fill="#cc0a2f"/>
<circle cx="430.05" cy="261.67" r="1.6" fill="#cc0a2f"/>
</g>
<rect x="0.5" y="0.5" width="519" height="315" fill="none" stroke="#000" stroke-width="1.1"/>
</svg>
</body></html>
